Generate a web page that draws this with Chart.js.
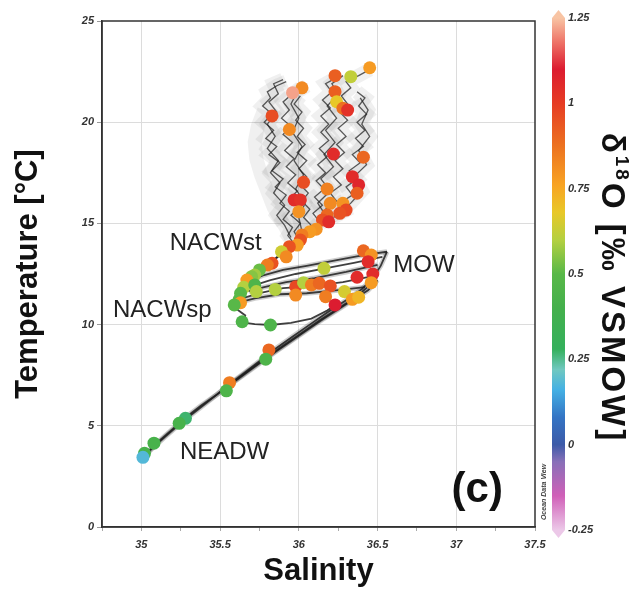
<!DOCTYPE html>
<html>
<head>
<meta charset="utf-8">
<script src="https://cdn.jsdelivr.net/npm/chart.js@4.4.1/dist/chart.umd.min.js"></script>
<style>
  body { margin: 0; background: #fff; }
  #wrap { width: 631px; height: 594px; }
</style>
</head>
<body>
<div id="wrap"><canvas id="tsChart" width="631" height="594"></canvas></div>
<script>
// bottle samples
const salinity = [
  36.45, 36.33, 36.23, 36.02, 35.96, 36.23, 36.24, 36.28, 36.31, 35.83,
  35.94, 36.22, 36.41, 36.03, 36.34, 36.38, 36.37, 36.18, 35.97, 36.01,
  36.00, 36.20, 36.28, 36.30, 36.26, 36.18, 36.15, 36.19, 36.11, 36.07,
  36.02, 36.01, 35.99, 35.94, 35.89, 35.92, 35.83, 35.80, 35.75, 35.72,
  35.70, 35.67, 35.65, 35.72, 35.73, 35.63, 35.85, 35.62, 35.63, 35.59,
  35.64, 35.82, 35.98, 36.03, 36.08, 36.13, 36.20, 35.98, 36.17, 36.29,
  36.34, 36.38, 36.23, 36.16, 36.37, 36.47, 36.46, 36.41, 36.46, 36.44,
  35.81, 35.79, 35.56, 35.54, 35.28, 35.24, 35.08, 35.02, 35.01
]
const temperature = [
  22.69, 22.25, 22.30, 21.70, 21.46, 21.51, 21.01, 20.69, 20.60, 20.31,
  19.64, 18.43, 18.27, 17.03, 17.31, 16.90, 16.49, 16.70, 16.16, 16.16,
  15.58, 15.99, 15.99, 15.66, 15.50, 15.42, 15.17, 15.08, 14.71, 14.59,
  14.43, 14.18, 13.93, 13.85, 13.60, 13.35, 13.03, 12.94, 12.70, 12.45,
  12.37, 12.20, 11.84, 11.96, 11.63, 11.55, 11.74, 11.22, 11.08, 10.97,
  10.14, 9.98, 11.87, 12.07, 11.96, 12.04, 11.91, 11.46, 11.38, 11.63,
  11.25, 11.35, 10.97, 12.78, 12.34, 12.50, 12.07, 13.65, 13.44, 13.11,
  8.75, 8.29, 7.13, 6.73, 5.37, 5.12, 4.14, 3.64, 3.44
]
const d18O = [
  0.78, 0.62, 0.92, 0.82, 1.22, 0.92, 0.68, 0.88, 1.03, 0.96,
  0.82, 1.05, 0.90, 0.96, 1.05, 1.07, 0.92, 0.84, 1.05, 1.03,
  0.80, 0.82, 0.80, 0.97, 0.95, 0.90, 0.95, 1.05, 0.80, 0.78,
  0.85, 0.95, 0.78, 0.95, 0.64, 0.82, 0.95, 0.85, 0.52, 0.58,
  0.55, 0.78, 0.60, 0.45, 0.60, 0.50, 0.60, 0.50, 0.78, 0.50,
  0.45, 0.45, 0.97, 0.60, 0.85, 0.90, 0.95, 0.82, 0.85, 0.65,
  0.78, 0.72, 1.10, 0.62, 1.05, 1.05, 0.78, 0.90, 0.80, 1.05,
  0.90, 0.45, 0.85, 0.45, 0.27, 0.42, 0.42, 0.42, 0.18
]

// CTD profiles [salinity, temperature]
const cloudA = [[35.97,14.0],[35.93,14.4],[35.96,14.8],[35.90,15.2],[35.94,15.6],[35.88,16.0],[35.92,16.4],[35.85,16.8],[35.90,17.2],[35.83,17.6],[35.88,18.0],[35.81,18.4],[35.86,18.8],[35.79,19.2],[35.84,19.6],[35.78,20.0],[35.83,20.4],[35.77,20.8],[35.82,21.2],[35.80,21.5],[35.86,21.8],[35.92,22.0]]
const cloudB = [[36.00,14.2],[35.97,14.6],[36.01,15.0],[35.95,15.4],[36.00,15.8],[35.94,16.2],[35.99,16.6],[35.93,17.0],[35.98,17.4],[35.92,17.8],[35.97,18.2],[35.91,18.6],[35.96,19.0],[35.90,19.4],[35.95,19.8],[35.89,20.2],[35.94,20.6],[35.90,21.0],[35.96,21.4],[36.01,21.7]]
const cloudC = [[36.04,14.5],[36.08,14.9],[36.03,15.3],[36.07,15.7],[36.02,16.1],[36.06,16.5],[36.01,16.9],[36.05,17.3],[36.00,17.7],[36.05,18.1],[35.99,18.5],[36.04,18.9],[35.99,19.3],[36.03,19.7],[35.98,20.1],[36.02,20.5],[35.97,20.9],[36.01,21.3]]
const cloudD = [[36.08,14.7],[36.13,15.1],[36.09,15.5],[36.15,15.9],[36.10,16.3],[36.16,16.7],[36.11,17.1],[36.17,17.5],[36.12,17.9],[36.18,18.3],[36.13,18.7],[36.19,19.1],[36.14,19.5],[36.19,19.9],[36.14,20.3],[36.20,20.7],[36.15,21.1],[36.21,21.5],[36.17,21.9],[36.24,22.2]]
const cloudE = [[36.14,15.0],[36.20,15.3],[36.17,15.7],[36.24,16.1],[36.20,16.5],[36.27,16.9],[36.22,17.3],[36.28,17.7],[36.23,18.1],[36.29,18.5],[36.24,18.9],[36.30,19.3],[36.25,19.7],[36.31,20.1],[36.26,20.5],[36.31,20.9],[36.27,21.3],[36.33,21.7],[36.30,22.0],[36.38,22.3],[36.45,22.6]]
const cloudF = [[36.22,15.3],[36.29,15.6],[36.26,16.0],[36.34,16.4],[36.30,16.8],[36.37,17.2],[36.32,17.6],[36.39,18.0],[36.34,18.4],[36.41,18.8],[36.36,19.2],[36.42,19.6],[36.37,20.0],[36.43,20.4],[36.38,20.8],[36.42,21.2],[36.37,21.5]]
const cloudG = [[35.95,14.3],[35.91,14.9],[35.86,15.4],[35.91,15.9],[35.84,16.5],[35.88,17.0],[35.82,17.5],[35.87,18.1],[35.80,18.7],[35.85,19.3],[35.80,19.9],[35.86,20.5],[35.81,21.0],[35.87,21.4],[35.84,21.9],[35.90,22.1]]
const cloudH = [[36.10,14.8],[36.17,15.4],[36.12,16.0],[36.20,16.6],[36.14,17.2],[36.22,17.8],[36.16,18.4],[36.23,19.0],[36.17,19.6],[36.24,20.2],[36.18,20.8],[36.25,21.4],[36.21,21.9],[36.28,22.3]]
const cloudI = [[36.26,15.5],[36.33,16.0],[36.40,16.6],[36.35,17.3],[36.43,17.9],[36.38,18.6],[36.45,19.3],[36.40,19.9],[36.44,20.6],[36.39,21.2]]
const cloudJ = [[36.02,14.6],[36.00,15.3],[36.04,16.0],[35.98,16.7],[36.03,17.4],[35.97,18.1],[36.02,18.8],[35.96,19.5],[36.00,20.2],[35.95,20.9],[35.99,21.5],[36.05,21.8]]
const cloudEdge = [[35.90,15.0],[35.84,15.8],[35.80,16.6],[35.76,17.4],[35.73,18.2],[35.72,19.0],[35.74,19.8],[35.78,20.6]]

const deepA = [[35.01,3.40],[35.06,3.85],[35.12,4.30],[35.20,4.85],[35.28,5.40],[35.38,6.00],[35.48,6.55],[35.56,7.05],[35.66,7.65],[35.76,8.25],[35.84,8.75],[35.95,9.35],[36.06,9.95],[36.18,10.60],[36.30,11.20],[36.40,11.75],[36.47,12.30],[36.52,12.90],[36.56,13.60]]
const deepB = [[35.03,3.60],[35.15,4.45],[35.26,5.20],[35.40,6.05],[35.53,6.85],[35.65,7.55],[35.78,8.30],[35.90,8.95],[36.02,9.60],[36.14,10.25],[36.27,10.90],[36.37,11.40],[36.45,11.95]]
const deepC = [[35.55,6.95],[35.70,7.80],[35.86,8.70],[36.00,9.45],[36.16,10.30],[36.33,11.15],[36.44,11.70],[36.50,12.20]]

const mowA = [[36.56,13.60],[36.42,13.45],[36.25,13.20],[36.05,12.90],[35.90,12.70],[35.78,12.45],[35.70,12.20]]
const mowB = [[36.53,13.35],[36.35,13.05],[36.15,12.75],[35.98,12.50],[35.82,12.20],[35.72,11.95]]
const mowC = [[36.50,12.95],[36.30,12.60],[36.10,12.30],[35.92,12.10],[35.78,11.85],[35.68,11.65]]
const mowD = [[36.47,12.40],[36.28,12.10],[36.08,11.90],[35.90,11.80],[35.75,11.55],[35.64,11.30]]
const mowE = [[36.42,11.85],[36.25,11.70],[36.05,11.55],[35.88,11.50],[35.72,11.30],[35.62,11.10]]
const loopSp = [[36.25,11.05],[36.18,10.70],[36.08,10.30],[35.95,10.08],[35.82,9.98],[35.72,10.02],[35.65,10.10],[35.66,10.45],[35.60,10.80],[35.62,11.05]]
const neckA = [[35.60,11.00],[35.62,11.50],[35.66,12.00],[35.72,12.50],[35.80,12.95],[35.88,13.45],[35.95,13.85],[36.01,14.25],[36.06,14.60],[36.12,14.95],[36.20,15.30]]
const neckB = [[35.64,11.40],[35.70,12.10],[35.78,12.70],[35.86,13.30],[35.92,13.70],[35.98,14.05]]

const cloudProfiles = [cloudA, cloudB, cloudC, cloudD, cloudE, cloudF, cloudG, cloudH, cloudI, cloudJ]
const lowerProfiles = [deepA, deepB, deepC, mowA, mowB, mowC, mowD, mowE, loopSp, neckA, neckB]

// water mass labels
const waterMassNames = ['NACWst', 'MOW', 'NACWsp', 'NEADW']
const labelAnchors = [[35.18, 14.03], [36.60, 12.94], [34.82, 10.72], [35.245, 3.71]]

// colour scale
const cbMin = -0.25
const cbMax = 1.25
const cbTicks = [1.25, 1, 0.75, 0.5, 0.25, 0, -0.25]
const cbStops = [-0.25, -0.15, -0.05, 0, 0.08, 0.16, 0.22, 0.28, 0.40, 0.50, 0.60, 0.68, 0.76, 0.88, 1.00, 1.10, 1.18, 1.25]
const cbColors = ['#ecc8e8', '#d060b8', '#8870b8', '#3c5aa8', '#3474c4', '#44b0e4', '#70c8c0', '#34b05c', '#44b04c', '#58b848',
  '#b4d040', '#e8c828', '#f8a424', '#ec7020', '#e63c24', '#dc1c30', '#ee7468', '#f8c4a4']

const FONT = "'Liberation Sans', Arial, Helvetica, sans-serif"

const hexToRgb = (h) => [1, 3, 5].map((i) => parseInt(h.slice(i, i + 2), 16))

const colorFor = (v) => {
    if (v <= cbStops[0]) return cbColors[0]
    for (let i = 1; i < cbStops.length; i++) {
        if (v <= cbStops[i]) {
            const f = (v - cbStops[i - 1]) / (cbStops[i] - cbStops[i - 1])
            const a = hexToRgb(cbColors[i - 1])
            const b = hexToRgb(cbColors[i])
            const c = a.map((ch, k) => Math.round(ch + (b[k] - ch) * f))
            return `rgb(${c[0]},${c[1]},${c[2]})`
        }
    }
    return cbColors[cbColors.length - 1]
}

const toXY = (pts) => pts.map(([s, t]) => ({ x: s, y: t }))

const isMajor = (v) => Math.abs(v * 2 - Math.round(v * 2)) < 1e-6

const overlay = {
    id: 'overlay',
    afterDraw(chart) {
        const { ctx, chartArea: a, scales } = chart
        ctx.save()

        // frame
        ctx.strokeStyle = '#333'
        ctx.lineWidth = 1.5
        ctx.strokeRect(a.left, a.top, a.right - a.left, a.bottom - a.top)

        // water masses
        ctx.fillStyle = '#222'
        ctx.textAlign = 'left'
        ctx.textBaseline = 'middle'
        ctx.font = `24px ${FONT}`
        waterMassNames.forEach((name, i) => {
            const [s, t] = labelAnchors[i]
            ctx.fillText(name, scales.x.getPixelForValue(s), scales.y.getPixelForValue(t))
        })

        // panel letter
        ctx.fillStyle = '#111'
        ctx.font = `bold 42px ${FONT}`
        ctx.fillText('(c)', scales.x.getPixelForValue(36.97), scales.y.getPixelForValue(1.83))

        // colour bar
        const cbX = a.right + 17
        const cbW = 13
        const cbTop = a.top - 3
        const cbBot = a.bottom + 3
        const cy = (v) => cbBot - (v - cbMin) / (cbMax - cbMin) * (cbBot - cbTop)
        const grad = ctx.createLinearGradient(0, cbBot, 0, cbTop)
        cbStops.forEach((v, i) => grad.addColorStop((v - cbMin) / (cbMax - cbMin), cbColors[i]))
        ctx.beginPath()
        ctx.moveTo(cbX + cbW / 2, cbTop - 8)
        ctx.lineTo(cbX + cbW, cbTop)
        ctx.lineTo(cbX + cbW, cbBot)
        ctx.lineTo(cbX + cbW / 2, cbBot + 8)
        ctx.lineTo(cbX, cbBot)
        ctx.lineTo(cbX, cbTop)
        ctx.closePath()
        ctx.fillStyle = grad
        ctx.fill()

        ctx.fillStyle = '#333'
        ctx.font = `italic bold 11px ${FONT}`
        ctx.textAlign = 'left'
        cbTicks.forEach((v) => ctx.fillText(String(v), cbX + cbW + 3, cy(v)))

        // ODV mark
        ctx.save()
        ctx.translate(a.right + 9, a.bottom - 35)
        ctx.rotate(-Math.PI / 2)
        ctx.textAlign = 'center'
        ctx.font = `italic bold 7px ${FONT}`
        ctx.fillStyle = '#444'
        ctx.fillText('Ocean Data View', 0, 0)
        ctx.restore()

        // colour bar title
        ctx.save()
        ctx.translate(611, 288)
        ctx.rotate(Math.PI / 2)
        ctx.fillStyle = '#111'
        ctx.textBaseline = 'middle'
        ctx.textAlign = 'left'
        ctx.letterSpacing = '3px'
        const mainFont = `bold 33px ${FONT}`
        const supFont = `bold 19px ${FONT}`
        ctx.font = mainFont
        const w1 = ctx.measureText('δ').width
        const w3 = ctx.measureText('O [‰ VSMOW]').width
        ctx.font = supFont
        const w2 = ctx.measureText('18').width
        const x0 = -(w1 + w2 + w3) / 2
        ctx.font = mainFont
        ctx.fillText('δ', x0, 0)
        ctx.font = supFont
        ctx.fillText('18', x0 + w1, -10)
        ctx.font = mainFont
        ctx.fillText('O [‰ VSMOW]', x0 + w1 + w2, 0)
        ctx.restore()

        ctx.restore()
    },
}

const tickFont = { family: FONT, size: 11, weight: 'bold', style: 'italic' }
const titleFont = { family: FONT, size: 31, weight: 'bold' }

const lineSet = (p, color, width, order) => ({
    data: toXY(p),
    showLine: true,
    borderColor: color,
    borderWidth: width,
    pointRadius: 0,
    order: order,
})

const datasets = [
    {
        label: 'samples',
        data: salinity.map((s, i) => ({ x: s, y: temperature[i] })),
        backgroundColor: d18O.map(colorFor),
        borderWidth: 0,
        pointRadius: 6.5,
        order: 0,
    },
    ...cloudProfiles.map((p) => lineSet(p, 'rgba(30,30,30,0.72)', 1.3, 1)),
    ...lowerProfiles.map((p) => lineSet(p, 'rgba(30,30,30,0.85)', 1.8, 1)),
    ...[...cloudProfiles, cloudEdge].map((p) => lineSet(p, 'rgba(110,110,110,0.10)', 14, 2)),
    ...[deepA, deepB, deepC, mowA, mowC, mowE].map((p) => lineSet(p, 'rgba(60,60,60,0.25)', 5, 2)),
]

new Chart(document.getElementById('tsChart'), {
    type: 'scatter',
    data: { datasets },
    options: {
        responsive: false,
        animation: false,
        layout: { padding: { top: 21, right: 96 } },
        plugins: { legend: { display: false }, tooltip: { enabled: false } },
        scales: {
            x: {
                min: 34.75,
                max: 37.5,
                afterFit: (s) => { s.height = 67 },
                ticks: {
                    stepSize: 0.25,
                    autoSkip: false,
                    maxRotation: 0,
                    padding: 7,
                    color: '#333',
                    font: tickFont,
                    callback: (v) => (isMajor(v) && v > 34.9 ? String(v) : ''),
                },
                grid: {
                    color: (c) => (isMajor(c.tick.value) && c.tick.value > 34.9 && c.tick.value < 37.4 ? '#dcdcdc' : 'rgba(0,0,0,0)'),
                    tickColor: '#aaa',
                    tickLength: 4,
                },
                border: { color: '#333', width: 1.5 },
                title: { display: true, text: 'Salinity', color: '#111', font: titleFont, padding: { top: 0, bottom: 4 } },
            },
            y: {
                min: 0,
                max: 25,
                afterFit: (s) => { s.width = 102 },
                ticks: { stepSize: 5, padding: 3, color: '#333', font: tickFont },
                grid: {
                    color: (c) => (c.tick.value > 0 && c.tick.value < 25 ? '#dcdcdc' : 'rgba(0,0,0,0)'),
                    tickColor: '#999',
                    tickLength: 5,
                },
                border: { color: '#333', width: 1.5 },
                title: { display: true, text: 'Temperature [°C]', color: '#111', font: titleFont, padding: { top: 10, bottom: 0 } },
            },
        },
    },
    plugins: [overlay],
})
</script>
</body>
</html>
